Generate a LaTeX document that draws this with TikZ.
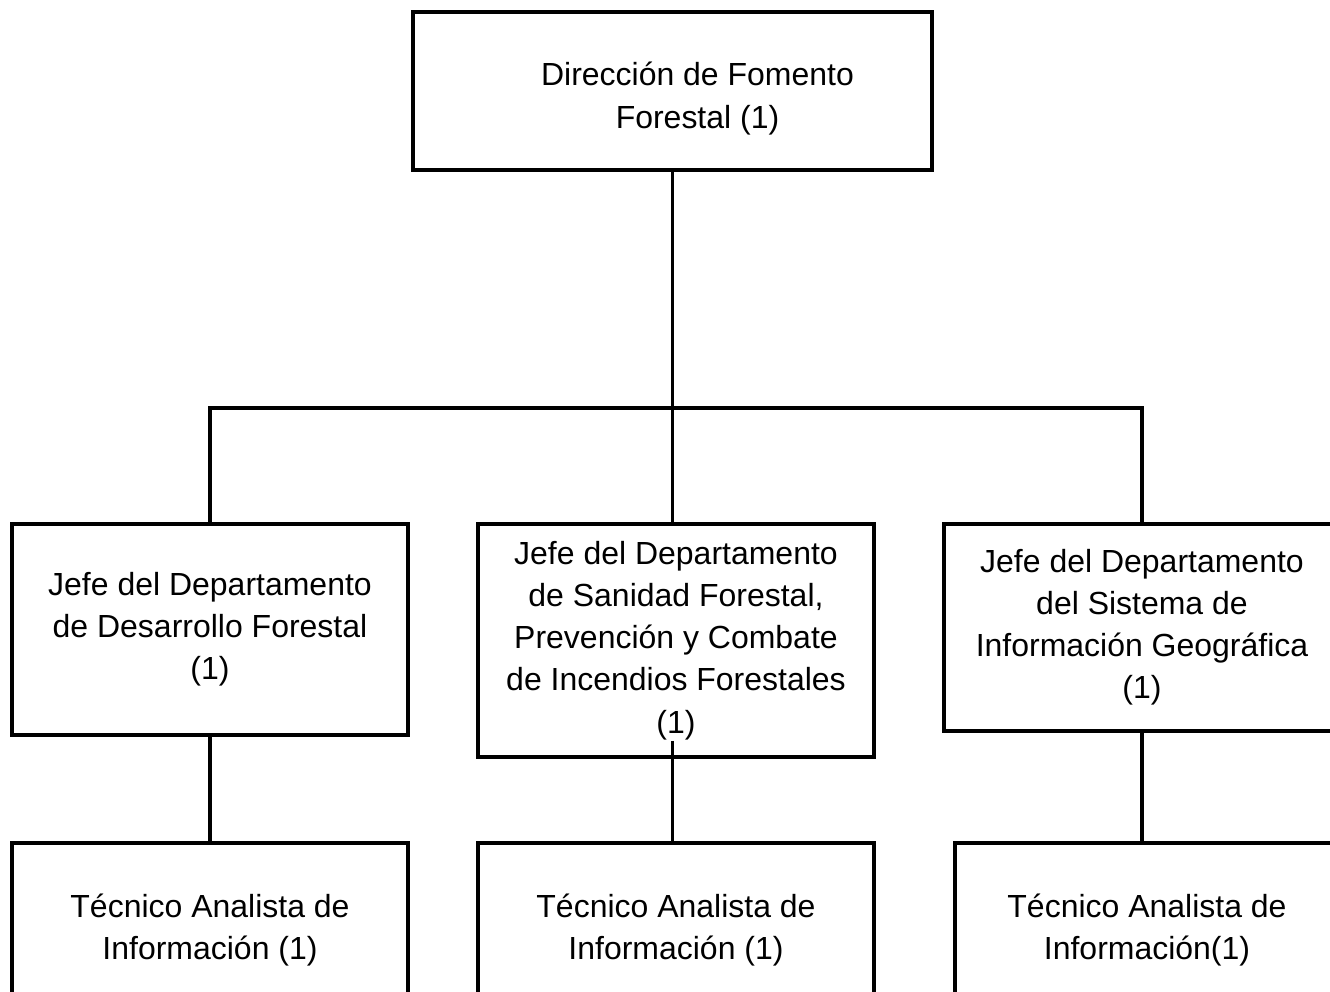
\documentclass[tikz,border=0pt]{standalone}
\usepackage{fontspec}
\setmainfont{Liberation Sans}
\usetikzlibrary{positioning}

\begin{document}
\begin{tikzpicture}[
  every node/.style={font=\fontsize{18.2}{24}\selectfont},
  box/.style={rectangle, draw, line width=2.2pt, minimum width=7.92cm, align=center, inner sep=0pt},
  link/.style={line width=2pt},
]
\useasboundingbox (0,0) rectangle (26.6,-19.82);
\clip (0,0) rectangle (26.6,-19.82);

% Direction
\node[box, minimum width=10.38cm, minimum height=3.16cm,
  label={[xshift=0.5cm, yshift=-0.15cm, align=center]center:Dirección de Fomento\\Forestal (1)}] (dir) at (13.45,-1.82) {};

% Jefes de departamento
\node[box, anchor=north, minimum height=4.22cm] (desa) at (4.2,-10.44) {Jefe del Departamento\\de Desarrollo Forestal\\(1)};
\node[box, anchor=north, minimum height=4.66cm] (sani) at (13.52,-10.44) {Jefe del Departamento\\de Sanidad Forestal,\\Prevención y Combate\\de Incendios Forestales\\(1)};
\node[box, anchor=north, minimum height=4.14cm] (sig) at (22.84,-10.44) {Jefe del Departamento\\del Sistema de\\Información Geográfica\\(1)};

% Tecnicos
\node[box, anchor=north, minimum height=3.48cm] (tec1) at (4.2,-16.82) {Técnico Analista de\\Información (1)};
\node[box, anchor=north, minimum height=3.48cm] (tec2) at (13.52,-16.82) {Técnico Analista de\\Información (1)};
\node[box, anchor=north, minimum width=7.68cm, minimum height=3.48cm] (tec3) at (22.94,-16.82) {Técnico Analista de\\Información(1)};

% Lines - top
\coordinate (bar) at (13.45,-8.16);
\draw[link] (dir.south) -- (bar);
\draw[link] (desa.north) |- (bar) -| (sig.north);
\draw[link] (bar) -- (bar |- sani.north);

% Lines - bottom
\draw[link] (desa.south) -- (tec1.north);
\draw[link] ([yshift=0.36cm]sani.south -| bar) -- (tec2.north -| bar);
\draw[link] (sig.south) -- (sig.south |- tec3.north);
\end{tikzpicture}
\end{document}
